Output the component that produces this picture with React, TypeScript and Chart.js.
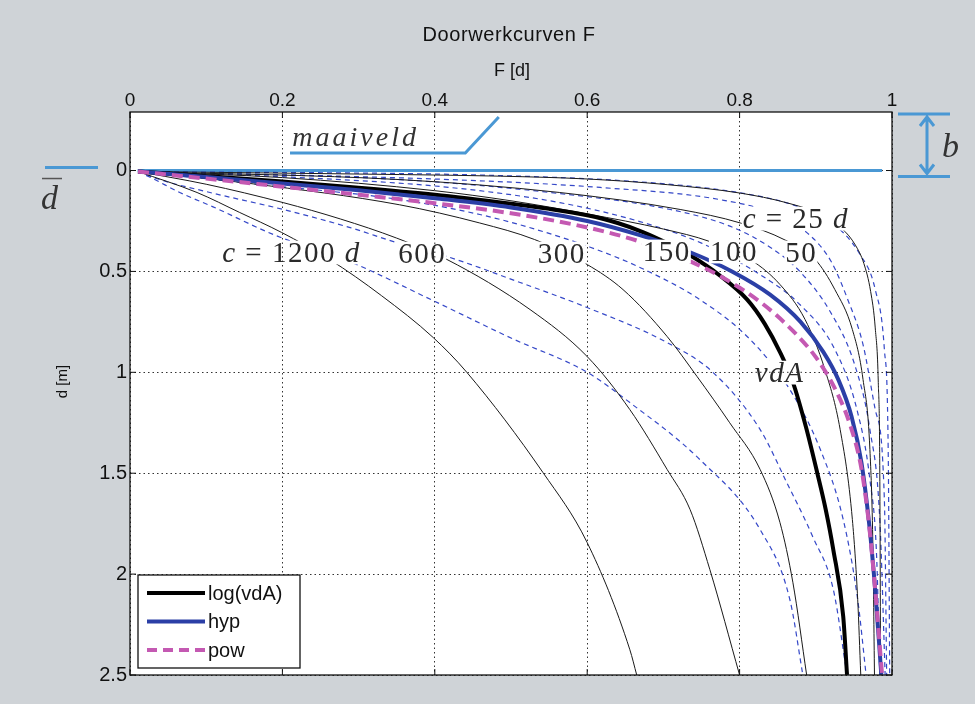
import React, { useEffect, useRef } from 'react';
import { Chart, registerables } from 'chart.js';

Chart.register(...registerables);

type P = [number, number];

// ---- axes ----
const xTickValues = [0, 0.2, 0.4, 0.6, 0.8, 1];
const yTickValues = [0, 0.5, 1, 1.5, 2, 2.5];
const chartTitle = 'Doorwerkcurven F';
const xTitle = 'F [d]';
const yTitle = 'd [m]';
const legendNames = ['log(vdA)', 'hyp', 'pow'];

// ---- thin black curves (F, d) ----
const log1200: P[] = [[0.0105, 0.005], [0.088, 0.109], [0.144, 0.208], [0.199, 0.307], [0.262, 0.441], [0.33, 0.62], [0.398, 0.828], [0.442, 1.0], [0.542, 1.497], [0.6, 1.844], [0.656, 2.375], [0.665, 2.5]];
const log600: P[] = [[0.0105, 0.005], [0.1, 0.068], [0.201, 0.159], [0.276, 0.24], [0.35, 0.335], [0.416, 0.441], [0.525, 0.689], [0.6, 0.922], [0.656, 1.185], [0.705, 1.482], [0.735, 1.68], [0.761, 1.978], [0.8, 2.5]];
const log300: P[] = [[0.0105, 0.005], [0.157, 0.064], [0.354, 0.17], [0.459, 0.26], [0.531, 0.342], [0.6, 0.466], [0.647, 0.59], [0.705, 0.823], [0.744, 1.02], [0.787, 1.25], [0.827, 1.482], [0.853, 1.745], [0.87, 2.043], [0.888, 2.5]];
const log100: P[] = [[0.0105, 0.005], [0.2, 0.035], [0.4, 0.1], [0.5, 0.15], [0.6, 0.215], [0.7, 0.29], [0.761, 0.352], [0.816, 0.446], [0.853, 0.565], [0.886, 0.739], [0.912, 0.987], [0.932, 1.284], [0.948, 1.73], [0.955, 2.127], [0.959, 2.5]];
const log50: P[] = [[0.0105, 0.005], [0.354, 0.045], [0.564, 0.109], [0.722, 0.193], [0.801, 0.26], [0.86, 0.345], [0.899, 0.44], [0.925, 0.59], [0.948, 0.788], [0.962, 1.036], [0.971, 1.383], [0.975, 1.879], [0.977, 2.5]];
const log25: P[] = [[0.0105, 0.005], [0.354, 0.02], [0.486, 0.028], [0.6, 0.042], [0.705, 0.07], [0.801, 0.112], [0.862, 0.16], [0.905, 0.215], [0.935, 0.29], [0.952, 0.37], [0.963, 0.46], [0.972, 0.6], [0.978, 0.78], [0.982, 1.05], [0.984, 1.5], [0.985, 2.5]];

// ---- thin blue dashed curves ----
const hyp1200: P[] = [[0.0105, 0.005], [0.03, 0.04], [0.066, 0.11], [0.109, 0.18], [0.19, 0.32], [0.285, 0.446], [0.398, 0.645], [0.5, 0.83], [0.6, 1.0], [0.656, 1.15], [0.748, 1.433], [0.827, 1.78], [0.866, 2.127], [0.883, 2.5]];
const hyp600: P[] = [[0.0105, 0.005], [0.039, 0.045], [0.105, 0.109], [0.201, 0.193], [0.289, 0.283], [0.35, 0.357], [0.42, 0.431], [0.512, 0.555], [0.6, 0.679], [0.705, 0.853], [0.765, 1.0], [0.827, 1.284], [0.862, 1.547], [0.896, 1.815], [0.923, 2.077], [0.941, 2.5]];
const hyp300: P[] = [[0.0105, 0.005], [0.157, 0.064], [0.354, 0.144], [0.459, 0.218], [0.531, 0.29], [0.604, 0.38], [0.669, 0.48], [0.748, 0.64], [0.814, 0.838], [0.866, 1.086], [0.906, 1.383], [0.936, 1.73], [0.955, 2.127], [0.966, 2.5]];
const hyp150: P[] = [[0.0105, 0.005], [0.223, 0.035], [0.42, 0.084], [0.564, 0.159], [0.669, 0.253], [0.75, 0.36], [0.827, 0.516], [0.879, 0.664], [0.925, 0.887], [0.954, 1.185], [0.971, 1.532], [0.98, 1.929], [0.984, 2.5]];
const hyp100: P[] = [[0.0105, 0.005], [0.354, 0.045], [0.551, 0.109], [0.709, 0.193], [0.79, 0.28], [0.84, 0.38], [0.879, 0.5], [0.919, 0.7], [0.951, 0.962], [0.971, 1.284], [0.984, 1.73], [0.991, 2.5]];
const hyp50: P[] = [[0.0105, 0.005], [0.42, 0.045], [0.617, 0.084], [0.774, 0.144], [0.85, 0.22], [0.892, 0.32], [0.92, 0.45], [0.942, 0.64], [0.962, 0.863], [0.978, 1.185], [0.99, 1.631], [0.993, 2.5]];
const hyp25: P[] = [[0.0105, 0.005], [0.486, 0.025], [0.682, 0.06], [0.8, 0.11], [0.87, 0.17], [0.919, 0.253], [0.958, 0.416], [0.978, 0.59], [0.99, 0.887], [0.995, 1.383], [0.997, 2.5]];

// ---- bold vdA curves ----
const logVdA: P[] = [[0.0105, 0.005], [0.1, 0.028], [0.2, 0.055], [0.3, 0.085], [0.4, 0.12], [0.5, 0.165], [0.55, 0.19], [0.6, 0.222], [0.64, 0.26], [0.673, 0.305], [0.705, 0.36], [0.735, 0.42], [0.774, 0.52], [0.81, 0.64], [0.833, 0.76], [0.853, 0.9], [0.87, 1.05], [0.887, 1.27], [0.902, 1.5], [0.913, 1.68], [0.923, 1.88], [0.936, 2.21], [0.941, 2.5]];
const hypVdA: P[] = [[0.0105, 0.005], [0.1, 0.032], [0.2, 0.064], [0.3, 0.098], [0.4, 0.137], [0.5, 0.183], [0.6, 0.25], [0.669, 0.32], [0.735, 0.405], [0.79, 0.5], [0.84, 0.615], [0.88, 0.75], [0.91, 0.9], [0.93, 1.04], [0.947, 1.22], [0.96, 1.45], [0.97, 1.75], [0.978, 2.08], [0.986, 2.5]];
const powVdA: P[] = [[0.0105, 0.005], [0.1, 0.04], [0.2, 0.08], [0.3, 0.12], [0.4, 0.162], [0.5, 0.212], [0.6, 0.282], [0.669, 0.352], [0.728, 0.438], [0.78, 0.535], [0.83, 0.66], [0.87, 0.795], [0.9, 0.925], [0.925, 1.08], [0.945, 1.26], [0.96, 1.48], [0.97, 1.76], [0.978, 2.08], [0.987, 2.5]];
const surfaceLine: P[] = [[0.01, 0], [0.987, 0]];

// ---- curve labels: [runs, F, d] (left, baseline) ----
type Run = [string, boolean];
const curveLabels: [Run[], number, number][] = [
  [[['c', true], [' = ', false], ['1200', false], [' ', false], ['d', true]], 0.121, 0.451],
  [[['600', false]], 0.352, 0.456],
  [[['300', false]], 0.535, 0.456],
  [[['150', false]], 0.673, 0.446],
  [[['100', false]], 0.761, 0.446],
  [[['50', false]], 0.86, 0.451],
  [[['c', true], [' = ', false], ['25', false], [' ', false], ['d', true]], 0.804, 0.283],
  [[['vdA', true]], 0.82, 1.046],
];

const GREY = '#cfd3d7';
const THIN_BLACK = '#1a1a1a';
const THIN_BLUE = '#3548c8';
const BOLD_BLUE = '#2b3fa6';
const PINK = '#c459b2';
const SKY = '#4a98d4';
const LABEL_SIZE = 29;

function pts(p: P[]) {
  return p.map(([x, y]) => ({ x, y }));
}

function setFont(ctx: CanvasRenderingContext2D, it: boolean, size: number) {
  ctx.font = `${it ? 'italic ' : ''}${size}px "Liberation Serif"`;
  (ctx as any).letterSpacing = '1.5px';
}

function runsWidth(ctx: CanvasRenderingContext2D, runs: Run[], size: number) {
  let w = 0;
  for (const [t, it] of runs) {
    setFont(ctx, it, size);
    w += ctx.measureText(t).width;
  }
  return w;
}

function drawRuns(ctx: CanvasRenderingContext2D, x: number, y: number, runs: Run[], size: number) {
  let cx = x;
  for (const [t, it] of runs) {
    setFont(ctx, it, size);
    ctx.fillText(t, cx, y);
    cx += ctx.measureText(t).width;
  }
}

function dottedGridIn(ctx: CanvasRenderingContext2D, chart: any, r: [number, number, number, number]) {
  const xs = chart.scales.x;
  const ys = chart.scales.y;
  const a = chart.chartArea;
  ctx.save();
  ctx.beginPath();
  ctx.rect(r[0], r[1], r[2], r[3]);
  ctx.clip();
  ctx.strokeStyle = '#333';
  ctx.lineWidth = 1;
  ctx.setLineDash([1.5, 3]);
  for (const v of xTickValues) {
    const px = xs.getPixelForValue(v);
    ctx.beginPath(); ctx.moveTo(px, a.top); ctx.lineTo(px, a.bottom); ctx.stroke();
  }
  for (const v of yTickValues) {
    const py = ys.getPixelForValue(v);
    ctx.beginPath(); ctx.moveTo(a.left, py); ctx.lineTo(a.right, py); ctx.stroke();
  }
  ctx.restore();
}

const decor = {
  id: 'decor',
  beforeDraw(chart: any) {
    const { ctx, chartArea: a, width, height } = chart;
    ctx.save();
    ctx.fillStyle = GREY;
    ctx.fillRect(0, 0, width, height);
    ctx.fillStyle = '#ffffff';
    ctx.fillRect(a.left, a.top, a.right - a.left, a.bottom - a.top);
    ctx.restore();
  },
  afterDraw(chart: any) {
    const { ctx, chartArea: a } = chart;
    const xs = chart.scales.x;
    const ys = chart.scales.y;
    ctx.save();

    // curve labels with white boxes that interrupt the curves
    ctx.textAlign = 'left';
    ctx.textBaseline = 'alphabetic';
    for (const [runs, f, d] of curveLabels) {
      const px = xs.getPixelForValue(f);
      const py = ys.getPixelForValue(d);
      const w = runsWidth(ctx, runs, LABEL_SIZE);
      const r: [number, number, number, number] = [px - 1, py - LABEL_SIZE * 0.72, w + 1, LABEL_SIZE * 0.82];
      ctx.fillStyle = '#fff';
      ctx.fillRect(r[0], r[1], r[2], r[3]);
      dottedGridIn(ctx, chart, r);
      ctx.fillStyle = '#2a2a2a';
      drawRuns(ctx, px, py, runs, LABEL_SIZE);
    }
    (ctx as any).letterSpacing = '0px';

    // frame
    ctx.strokeStyle = '#111';
    ctx.lineWidth = 1.3;
    ctx.setLineDash([]);
    ctx.strokeRect(a.left, a.top, a.right - a.left, a.bottom - a.top);
    // inward tick marks
    ctx.lineWidth = 1;
    for (const v of xTickValues) {
      const px = xs.getPixelForValue(v);
      ctx.beginPath();
      ctx.moveTo(px, a.top); ctx.lineTo(px, a.top + 6);
      ctx.moveTo(px, a.bottom); ctx.lineTo(px, a.bottom - 6);
      ctx.stroke();
    }
    for (const v of yTickValues) {
      const py = ys.getPixelForValue(v);
      ctx.beginPath();
      ctx.moveTo(a.left, py); ctx.lineTo(a.left + 6, py);
      ctx.moveTo(a.right, py); ctx.lineTo(a.right - 6, py);
      ctx.stroke();
    }

    // titles
    ctx.fillStyle = '#111';
    ctx.textAlign = 'center';
    ctx.font = '20px "Liberation Sans"';
    (ctx as any).letterSpacing = '0.6px';
    ctx.fillText(chartTitle, (a.left + a.right) / 2 - 2, 41);
    (ctx as any).letterSpacing = '0px';
    ctx.font = '18px "Liberation Sans"';
    ctx.fillText(xTitle, (a.left + a.right) / 2 + 1, 76);
    ctx.save();
    ctx.translate(67, (a.top + a.bottom) / 2 - 12);
    ctx.rotate(-Math.PI / 2);
    ctx.font = '15px "Liberation Sans"';
    ctx.fillText(yTitle, 0, 0);
    ctx.restore();

    // maaiveld annotation
    const y0 = ys.getPixelForValue(0);
    ctx.strokeStyle = SKY;
    ctx.lineWidth = 3;
    ctx.beginPath();
    ctx.moveTo(xs.getPixelForValue(0.21), a.top + 41);
    ctx.lineTo(xs.getPixelForValue(0.44), a.top + 41);
    ctx.lineTo(xs.getPixelForValue(0.484), a.top + 5);
    ctx.stroke();
    ctx.fillStyle = '#333';
    ctx.textAlign = 'left';
    ctx.font = 'italic 28px "Liberation Serif"';
    (ctx as any).letterSpacing = '3px';
    ctx.fillText('maaiveld', xs.getPixelForValue(0.213), a.top + 34);
    (ctx as any).letterSpacing = '0px';

    // d-bar marker on the left
    ctx.strokeStyle = SKY;
    ctx.lineWidth = 3;
    ctx.beginPath();
    ctx.moveTo(45, y0 - 3); ctx.lineTo(98, y0 - 3);
    ctx.stroke();
    ctx.fillStyle = '#333';
    ctx.font = 'italic 34px "Liberation Serif"';
    ctx.fillText('d', 41, y0 + 38);
    ctx.strokeStyle = '#555';
    ctx.lineWidth = 1.5;
    ctx.beginPath();
    ctx.moveTo(42, y0 + 8); ctx.lineTo(62, y0 + 8);
    ctx.stroke();

    // b marker on the right
    const bx0 = a.right + 6;
    const bx1 = a.right + 58;
    const yt = a.top + 2;
    const yb = y0 + 6;
    ctx.strokeStyle = SKY;
    ctx.lineWidth = 3;
    ctx.beginPath();
    ctx.moveTo(bx0, yt); ctx.lineTo(bx1, yt);
    ctx.moveTo(bx0, yb); ctx.lineTo(bx1, yb);
    const ax = a.right + 35;
    ctx.moveTo(ax, yt + 3); ctx.lineTo(ax, yb - 3);
    ctx.moveTo(ax - 7, yt + 12); ctx.lineTo(ax, yt + 3); ctx.lineTo(ax + 7, yt + 12);
    ctx.moveTo(ax - 7, yb - 12); ctx.lineTo(ax, yb - 3); ctx.lineTo(ax + 7, yb - 12);
    ctx.stroke();
    ctx.fillStyle = '#333';
    ctx.font = 'italic 34px "Liberation Serif"';
    ctx.fillText('b', a.right + 50, (yt + yb) / 2 + 12);

    // legend
    const lx = a.left + 8;
    const ly = a.bottom - 100;
    ctx.fillStyle = '#fff';
    ctx.fillRect(lx, ly, 162, 93);
    ctx.strokeStyle = '#111';
    ctx.lineWidth = 1.3;
    ctx.strokeRect(lx, ly, 162, 93);
    const styles: [string, number[]][] = [['#000', []], [BOLD_BLUE, []], [PINK, [10, 6]]];
    legendNames.forEach((name, i) => {
      const yy = ly + 18 + i * 28.5;
      ctx.strokeStyle = styles[i][0];
      ctx.lineWidth = 4;
      ctx.setLineDash(styles[i][1]);
      ctx.beginPath();
      ctx.moveTo(lx + 9, yy); ctx.lineTo(lx + 67, yy);
      ctx.stroke();
      ctx.setLineDash([]);
      ctx.fillStyle = '#111';
      ctx.font = '20px "Liberation Sans"';
      ctx.textBaseline = 'middle';
      ctx.fillText(name, lx + 70, yy + 1);
      ctx.textBaseline = 'alphabetic';
    });
    ctx.restore();
  },
};

function line(p: P[], color: string, width: number, dash: number[] = []) {
  return {
    data: pts(p),
    showLine: true,
    borderColor: color,
    borderWidth: width,
    borderDash: dash,
    pointRadius: 0,
    fill: false,
    cubicInterpolationMode: 'monotone',
    tension: 0.4,
  };
}

export default function App() {
  const ref = useRef<HTMLCanvasElement>(null);
  useEffect(() => {
    if (!ref.current) return;
    const datasets: any[] = [
      line(powVdA, PINK, 4, [11, 6]),
      line(hypVdA, BOLD_BLUE, 4),
      line(logVdA, '#000', 4),
      line(log1200, THIN_BLACK, 1),
      line(log600, THIN_BLACK, 1),
      line(log300, THIN_BLACK, 1),
      line(log100, THIN_BLACK, 1),
      line(log50, THIN_BLACK, 1),
      line(log25, THIN_BLACK, 1),
      line(hyp1200, THIN_BLUE, 1.2, [5, 4]),
      line(hyp600, THIN_BLUE, 1.2, [5, 4]),
      line(hyp300, THIN_BLUE, 1.2, [5, 4]),
      line(hyp150, THIN_BLUE, 1.2, [5, 4]),
      line(hyp100, THIN_BLUE, 1.2, [5, 4]),
      line(hyp50, THIN_BLUE, 1.2, [5, 4]),
      line(hyp25, THIN_BLUE, 1.2, [5, 4]),
      line(surfaceLine, SKY, 3),
    ];
    const chart = new Chart(ref.current, {
      type: 'scatter',
      data: { datasets },
      options: {
        animation: false,
        responsive: false,
        events: [],
        layout: { padding: { left: 0, top: 0, right: 83, bottom: 29 } },
        plugins: { legend: { display: false }, tooltip: { enabled: false }, title: { display: false } },
        scales: {
          x: {
            type: 'linear',
            position: 'top',
            min: 0,
            max: 1,
            afterFit: (s: any) => { s.height = 112; },
            afterBuildTicks: (s: any) => { s.ticks = xTickValues.map((v) => ({ value: v })); },
            ticks: { font: { family: 'Liberation Sans', size: 19 }, color: '#111', padding: 0, callback: (v: any) => String(v) },
            grid: { color: '#333', lineWidth: 1, drawTicks: false },
            border: { display: false, dash: [1.5, 3] },
          },
          y: {
            type: 'linear',
            reverse: true,
            min: -0.29,
            max: 2.5,
            afterFit: (s: any) => { s.width = 130; },
            afterBuildTicks: (s: any) => { s.ticks = yTickValues.map((v) => ({ value: v })); },
            ticks: { font: { family: 'Liberation Sans', size: 20 }, color: '#111', padding: 3, callback: (v: any) => String(v) },
            grid: { color: '#333', lineWidth: 1, drawTicks: false },
            border: { display: false, dash: [1.5, 3] },
          },
        },
      },
      plugins: [decor],
    });
    return () => chart.destroy();
  }, []);
  return (
    <div style={{ position: 'absolute', left: 0, top: 0, width: 975, height: 704, background: GREY }}>
      <canvas ref={ref} width={975} height={704} style={{ display: 'block' }} />
    </div>
  );
}
